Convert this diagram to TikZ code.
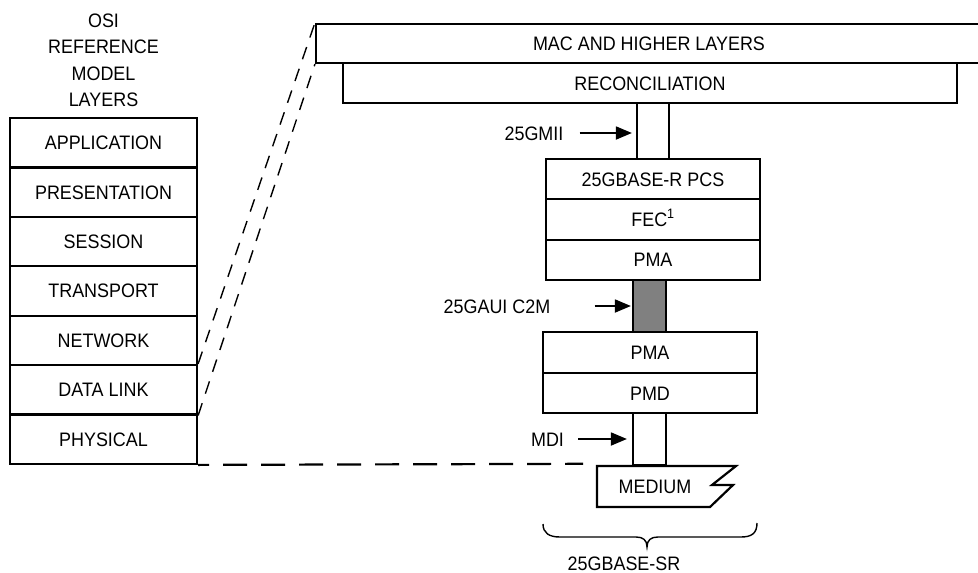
\documentclass[tikz,border=0pt]{standalone}
\usepackage{fontspec}
\setmainfont{Liberation Sans}[FakeStretch=0.92]
\usetikzlibrary{arrows.meta}
\begin{document}
\begin{tikzpicture}[x=1pt,y=-1pt,
  txt/.style={font=\fontsize{19.5}{23}\selectfont, inner sep=0pt, text height=14pt, text depth=0pt},
  box/.style 2 args={txt, draw, line width=2.2pt, minimum width=#1, minimum height=#2},
  osibox/.style={box={187pt}{49.4pt}},
  arr/.style={line width=1.8pt, shorten >=#1, -{Triangle[length=16pt,width=13pt]}},
  diag/.style={line width=1.4pt, dash pattern=on 13pt off 10pt},
  hdash/.style={line width=2.2pt, dash pattern=on 24pt off 14pt, dash phase=13pt},
  outline/.style={line width=2.2pt, line join=miter}
]
\useasboundingbox (0,0) rectangle (978,573);

% OSI reference model column
\node[font=\fontsize{19.5}{26.5}\selectfont, align=center, inner sep=0pt] (title) at (103.5,60.5) {OSI\\REFERENCE\\MODEL\\LAYERS};
\node[osibox] (application)  at (103.5,142.7) {APPLICATION};
\node[osibox] (presentation) at (103.5,192.1) {PRESENTATION};
\node[osibox] (session)      at (103.5,241.5) {SESSION};
\node[osibox] (transport)    at (103.5,290.9) {TRANSPORT};
\node[osibox] (network)      at (103.5,340.3) {NETWORK};
\node[osibox] (datalink)     at (103.5,389.7) {DATA LINK};
\node[osibox] (physical)     at (103.5,439.1) {PHYSICAL};

% 25GBASE-SR sublayers
\node[box={666pt}{39pt}] (mac)   at (649,43.5) {MAC AND HIGHER LAYERS};
\node[box={614pt}{40pt}] (recon) at (650,83)   {RECONCILIATION};
\node[box={32pt}{56pt}]  (gmii)  at (653,131)  {};
\node[box={214pt}{40.3pt}] (pcs)  at (653,179.2) {25GBASE-R PCS};
\node[box={214pt}{40.3pt}] (fec)  at (653,219.5) {FEC\textsuperscript{1}};
\node[box={214pt}{40.3pt}] (pmaA) at (653,259.8) {PMA};
\node[box={33pt}{52pt}, fill={rgb,255:red,128;green,128;blue,128}] (c2m) at (649.5,306) {};
\node[box={214pt}{40.5pt}] (pmaB) at (650,352.5) {PMA};
\node[box={214pt}{40.5pt}] (pmd)  at (650,393)   {PMD};
\node[box={33pt}{52pt}]  (mdi)   at (649.5,439) {};

% medium with break symbol
\node[txt] (medium) at (655,486) {MEDIUM};
\draw[outline] (597,466) -- (736,466) -- (712,485) -- (733,485) -- (710,507) -- (597,507) -- cycle;

% interface labels and arrows
\node[txt] (lgmii) at (534,133) {25GMII};
\draw[arr=4pt] ([xshift=16pt]lgmii.east) -- (gmii.west |- lgmii);
\node[txt] (lc2m) at (497,306) {25GAUI C2M};
\draw[arr=1pt] ([xshift=44pt]lc2m.east) -- (c2m.west |- lc2m);
\node[txt] (lmdi) at (547.5,439) {MDI};
\draw[arr=5pt] ([xshift=14pt]lmdi.east) -- (mdi.west |- lmdi);

% mapping lines between the two stacks
\draw[diag] (datalink.north east) -- (mac.north west);
\draw[diag] (datalink.south east) -- (mac.south west);
\coordinate (dashend) at (583,463.8);
\draw[hdash] (physical.south east) -- (dashend);

% brace under the PHY
\draw[line width=1.4pt] (543,524) .. controls (543,533) and (549,537) .. (560,537) -- (636,537)
  .. controls (643,537) and (647,540) .. (647,547)
  .. controls (647,540) and (651,537) .. (658,537) -- (741,537)
  .. controls (752,537) and (757,533) .. (757,523);
\node[txt] (sr) at (624,563) {25GBASE-SR};
\end{tikzpicture}
\end{document}
